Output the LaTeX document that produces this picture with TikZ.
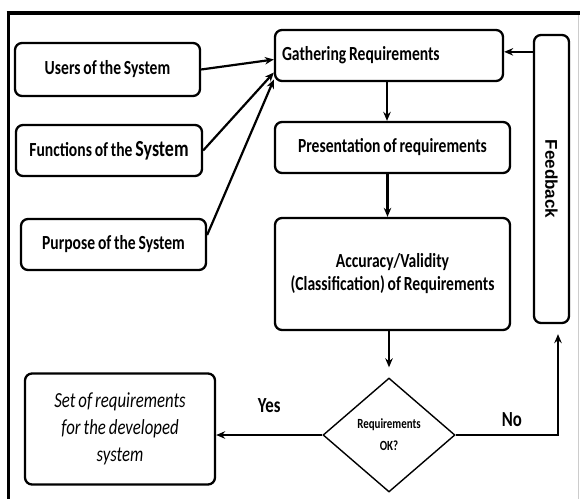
\documentclass[tikz,border=0pt]{standalone}
\usepackage{fontspec}
\setmainfont{Carlito}[FakeStretch=0.78, WordSpace=0.8]
\newfontfamily\fbfont{Liberation Sans}
\usetikzlibrary{arrows.meta,shapes.geometric}

\tikzset{
  box/.style={draw, line width=2.3pt, rounded corners=7pt, inner sep=0pt,
    align=center, font=\fontsize{20}{23}\selectfont\bfseries},
  arr/.style={line width=2.2pt, -{Stealth[length=9pt,width=7.5pt]}},
  lbl/.style={font=\fontsize{21.5}{24}\selectfont\bfseries}
}

\begin{document}
\begin{tikzpicture}[x=1pt, y=-1pt]
  \useasboundingbox (0,0) rectangle (580,499);

  % Frame
  \draw[line width=3.5pt] (6.5,13) -- (580,13);
  \draw[line width=3pt] (8.5,11.5) -- (8.5,499);
  \draw[line width=0.8pt, gray!40] (578,15) -- (578,499);

  % Inputs
  \node[box, minimum width=185pt, minimum height=53pt] (users) at (107.5,69.5) {Users of the System};
  \node[box, minimum width=186pt, minimum height=51pt] (funcs) at (109,150.5)
    {Functions of the {\fontsize{23}{25}\selectfont System}};
  \node[box, minimum width=185pt, minimum height=51pt] (purpose) at (113.5,244.5) {Purpose of the System};

  % Main steps
  \node[box, minimum width=228pt, minimum height=51pt, text width=218pt, align=flush left] (gather) at (389,55.5)
    {\hspace*{2pt}Gathering Requirements};
  \node[box, minimum width=235pt, minimum height=51pt] (present) at (392.5,147.5) {Presentation of requirements};
  \node[box, minimum width=235pt, minimum height=112pt, font=\fontsize{20}{23}\selectfont\bfseries] (accur) at (392.5,274)
    {Accuracy/Validity\\(Classification) of Requirements};
  \node[box, minimum width=35pt, minimum height=288pt] (fdbk) at (551.5,179) {};
  \node[rotate=-90, font=\fbfont\fontsize{17}{20}\selectfont\bfseries] (fdbktext) at (fdbk.center) {Feedback};

  % Decision and result
  \node[draw, diamond, line width=1.4pt, minimum width=132pt, minimum height=114pt, inner sep=0pt,
    align=center, font=\fontsize{14}{22}\selectfont\bfseries] (check) at (389,435) {Requirements\\OK?};
  \node[box, minimum width=190pt, minimum height=111pt, font=\fontsize{21.5}{27}\selectfont\itshape] (result) at (120,429)
    {Set of requirements\\for the developed\\system};

  % Connections
  \draw[arr] (users.east) -- ([yshift=-4pt]gather.west);
  \draw[arr] (funcs.east) -- ([yshift=-17pt]gather.west);
  \draw[arr] ([yshift=9.5pt]purpose.east) -- ([yshift=-24pt]gather.west);
  \draw[arr] ([xshift=-2pt]gather.south) -- ([xshift=-2pt]gather.south |- present.north);
  \draw[arr] ([xshift=-5pt]present.south) -- ([xshift=-5pt]present.south |- accur.north);
  \draw[arr, shorten >=10pt] (accur.south -| check.north) -- (check.north);
  \draw[arr] (check.west) -- (check.west -| result.east) node[lbl, pos=0.5, above=18pt] {Yes};
  \coordinate (turn) at ([xshift=6.5pt]fdbk.south |- check.east);
  \draw[arr, shorten >=10pt] (check.east) -- (turn) node[lbl, pos=0.55, above=4pt] {No} -- ([xshift=6.5pt]fdbk.south);
  \draw[arr] ([yshift=-18pt]fdbk.north west) -- ([yshift=-18pt]fdbk.north west -| gather.east);
\end{tikzpicture}
\end{document}
